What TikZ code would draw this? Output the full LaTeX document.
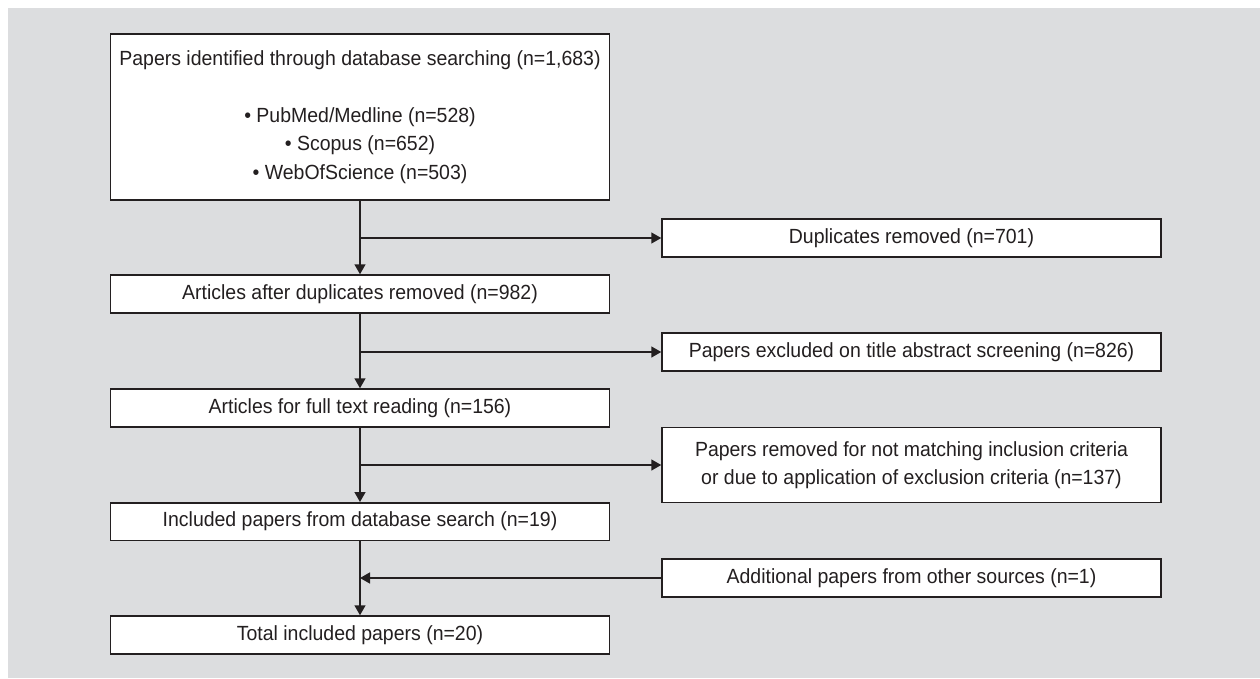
\documentclass[tikz,border=0pt]{standalone}
\usepackage{fontspec}
\setmainfont{Liberation Sans}[FakeStretch=0.95]
\usetikzlibrary{arrows.meta}
\definecolor{bg}{HTML}{DCDDDF}
\definecolor{ink}{HTML}{231F20}
\begin{document}
\begin{tikzpicture}[x=1pt,y=-1pt,
  box/.style={draw=ink,line width=1.5pt,fill=white,minimum width=499pt,inner sep=0pt,align=center,font=\fontsize{20.5}{28.5}\selectfont,text=ink},
  conn/.style={draw=ink,line width=1.5pt},
  arr/.style={conn,-{Triangle[length=10pt,width=11pt]}}]
\fill[white] (0,0) rectangle (1260,678);
\fill[bg] (8,8) rectangle (1260,678);
\useasboundingbox (0,0) rectangle (1260,678);
\node[box,minimum height=166pt] (b1) at (360,117) {Papers identified through database searching (n=1,683)\\[28.5pt] • PubMed/Medline (n=528)\\ • Scopus (n=652)\\ • WebOfScience (n=503)};
\node[box,minimum height=38pt] (b2) at (360,294) {Articles after duplicates removed (n=982)};
\node[box,minimum height=38pt] (b3) at (360,408) {Articles for full text reading (n=156)};
\node[box,minimum height=37.5pt] (b4) at (360,521.5) {Included papers from database search (n=19)};
\node[box,minimum height=38pt] (b5) at (360,635) {Total included papers (n=20)};
\node[box,minimum height=38pt] (e1) at (911.5,238) {Duplicates removed (n=701)};
\node[box,minimum height=38pt] (e2) at (911.5,352) {Papers excluded on title abstract screening (n=826)};
\node[box,minimum height=75pt] (e3) at (911.5,465) {Papers removed for not matching inclusion criteria\\or due to application of exclusion criteria (n=137)};
\node[box,minimum height=38pt] (e4) at (911.5,578) {Additional papers from other sources (n=1)};
\draw[arr] (b1.south) -- (b2.north);
\draw[arr] (b1.south |- e1.west) -- (e1.west);
\draw[arr] (b2.south) -- (b3.north);
\draw[arr] (b2.south |- e2.west) -- (e2.west);
\draw[arr] (b3.south) -- (b4.north);
\draw[arr] (b3.south |- e3.west) -- (e3.west);
\draw[arr] (b4.south) -- (b5.north);
\draw[arr] (e4.west) -- (b4.south |- e4.west);
\end{tikzpicture}
\end{document}
